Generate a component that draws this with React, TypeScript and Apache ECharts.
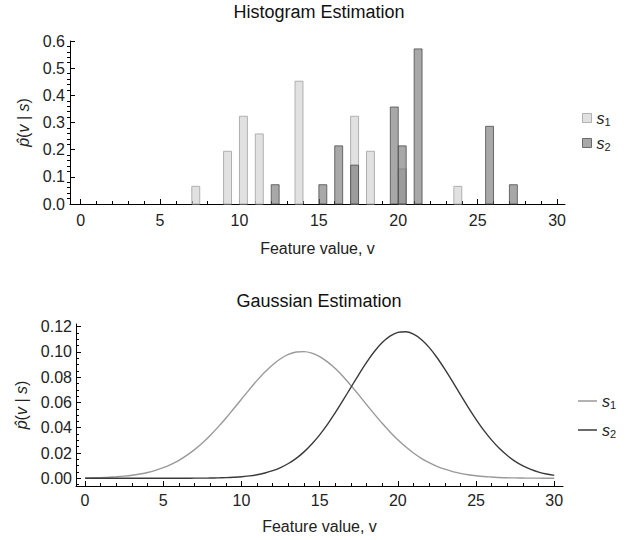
import React, { useEffect, useRef } from 'react';
import * as echarts from 'echarts';

// ---- Histogram data (bin width 0.5) ----
const binWidth = 0.5;
const s1BinStarts = [7, 9, 10, 11, 13.5, 17, 18, 20, 23.5];
const s1Heights = [0.065, 0.194, 0.323, 0.258, 0.452, 0.323, 0.194, 0.129, 0.065];
const s2BinStarts = [12, 15, 16, 17, 19.5, 20, 21, 25.5, 27];
const s2Heights = [0.071, 0.071, 0.214, 0.143, 0.357, 0.214, 0.571, 0.286, 0.071];

// ---- Gaussian estimate curves (read off every 0.5 in v) ----
const vValues = [0, 0.5, 1, 1.5, 2, 2.5, 3, 3.5, 4, 4.5, 5, 5.5, 6, 6.5, 7, 7.5, 8, 8.5, 9, 9.5, 10, 10.5, 11, 11.5, 12, 12.5, 13, 13.5, 14, 14.5, 15, 15.5, 16, 16.5, 17, 17.5, 18, 18.5, 19, 19.5, 20, 20.5, 21, 21.5, 22, 22.5, 23, 23.5, 24, 24.5, 25, 25.5, 26, 26.5, 27, 27.5, 28, 28.5, 29, 29.5, 30];
const s1Curve = [0.0002, 0.0004, 0.0005, 0.0008, 0.0012, 0.0017, 0.0024, 0.0034, 0.0046, 0.0063, 0.0084, 0.011, 0.0142, 0.0181, 0.0227, 0.0279, 0.0339, 0.0405, 0.0475, 0.055, 0.0626, 0.0702, 0.0775, 0.0841, 0.0899, 0.0946, 0.098, 0.0999, 0.1002, 0.099, 0.0963, 0.0921, 0.0868, 0.0805, 0.0734, 0.066, 0.0583, 0.0508, 0.0435, 0.0367, 0.0305, 0.0249, 0.02, 0.0158, 0.0123, 0.0095, 0.0072, 0.0053, 0.0039, 0.0028, 0.002, 0.0014, 0.001, 0.0006, 0.0004, 0.0003, 0.0002, 0.0001, 0.0001, 0.0, 0.0];
const s2Curve = [0, 0, 0, 0, 0, 0, 0, 0, 0, 0, 0, 0, 0, 0.0, 0.0001, 0.0001, 0.0002, 0.0003, 0.0005, 0.0008, 0.0012, 0.0019, 0.0028, 0.0042, 0.006, 0.0085, 0.0117, 0.0158, 0.0209, 0.0271, 0.0344, 0.0427, 0.0519, 0.0618, 0.072, 0.0821, 0.0917, 0.1003, 0.1074, 0.1125, 0.1155, 0.116, 0.1141, 0.1099, 0.1036, 0.0956, 0.0864, 0.0765, 0.0662, 0.0562, 0.0467, 0.0379, 0.0302, 0.0235, 0.018, 0.0134, 0.0098, 0.007, 0.0049, 0.0034, 0.0023];

// ---- Ticks ----
const xMajorTicks = [0, 5, 10, 15, 20, 25, 30];
const xMinorTicks = [1, 2, 3, 4, 6, 7, 8, 9, 11, 12, 13, 14, 16, 17, 18, 19, 21, 22, 23, 24, 26, 27, 28, 29];
const histYTicks = [0, 0.1, 0.2, 0.3, 0.4, 0.5, 0.6];
const gaussYTicks = [0, 0.02, 0.04, 0.06, 0.08, 0.1, 0.12];
const gaussYMinorTicks = [-0.005, 0.005, 0.01, 0.015, 0.025, 0.03, 0.035, 0.045, 0.05, 0.055, 0.065, 0.07, 0.075, 0.085, 0.09, 0.095, 0.105, 0.11, 0.115];

const FONT = 'Liberation Sans, Arial, Helvetica, sans-serif';
const TICK_FS = 16;
const nameRich = {
  i: { fontStyle: 'italic', fontSize: 16, fontFamily: FONT, color: '#222' },
  r: { fontSize: 16, fontFamily: FONT, color: '#222' },
};
const yName = '{i|p\u0302}{r|(}{i|v}{r| | }{i|s}{r|)}';

function majorX(grid: number, min: number, max: number, nameGap: number, labelMargin: number) {
  return {
    type: 'value', gridIndex: grid, min, max, position: 'bottom',
    name: 'Feature value, v', nameLocation: 'middle', nameGap,
    nameTextStyle: { fontFamily: FONT, fontSize: 16, color: '#222' },
    axisLine: { show: true, onZero: false, lineStyle: { color: '#000', width: 1 } },
    axisTick: { show: true, inside: true, length: 5, customValues: xMajorTicks, lineStyle: { color: '#000' } },
    axisLabel: { show: true, customValues: xMajorTicks, margin: labelMargin, fontFamily: FONT, fontSize: TICK_FS, color: '#222', formatter: (v: number) => String(v) },
    splitLine: { show: false },
  };
}
function minorX(grid: number, min: number, max: number) {
  return {
    type: 'value', gridIndex: grid, min, max, position: 'bottom',
    axisLine: { show: false, onZero: false },
    axisTick: { show: true, inside: true, length: 3, customValues: xMinorTicks, lineStyle: { color: '#000' } },
    axisLabel: { show: false },
    splitLine: { show: false },
  };
}

function histSeries(name: string, starts: number[], heights: number[], fill: string, stroke: string) {
  return {
    type: 'custom', name, xAxisIndex: 0, yAxisIndex: 0,
    itemStyle: { color: fill, borderColor: stroke, borderWidth: 1 },
    encode: { x: [0, 1], y: 2 },
    data: starts.map((s, i) => [s, s + binWidth, heights[i]]),
    renderItem: (params: any, api: any) => {
      const p0 = api.coord([api.value(0), api.value(2)]);
      const p1 = api.coord([api.value(1), 0]);
      return {
        type: 'rect',
        shape: { x: p0[0], y: p0[1], width: p1[0] - p0[0], height: p1[1] - p0[1] },
        style: { fill, stroke, lineWidth: 1 },
      };
    },
  };
}

const legendRich = {
  i: { fontStyle: 'italic', fontSize: 16, fontFamily: FONT, color: '#222', lineHeight: 18, verticalAlign: 'middle' },
  sub: { fontSize: 11, fontFamily: FONT, color: '#222', lineHeight: 11, verticalAlign: 'bottom' },
};
const legendFormatter = (n: string) => '{i|s}{sub|' + n.trim().slice(1) + '}';

const S1_FILL = 'rgba(200,200,200,0.55)';
const S2_FILL = 'rgba(110,110,110,0.6)';
const S1_LINE = '#999999';
const S2_LINE = '#3a3a3a';

const option: any = {
  animation: false,
  backgroundColor: '#fff',
  textStyle: { fontFamily: FONT },
  title: [
    { text: 'Histogram Estimation', left: 'center', top: 3, padding: 0, textStyle: { fontFamily: FONT, fontSize: 18, fontWeight: 'normal', color: '#111' } },
    { text: 'Gaussian Estimation', left: 'center', top: 292, padding: 0, textStyle: { fontFamily: FONT, fontSize: 18, fontWeight: 'normal', color: '#111' } },
  ],
  legend: [
    {
      data: [
        { name: 's1', icon: 'rect', itemStyle: { color: S1_FILL, borderColor: '#b0b0b0', borderWidth: 1 } },
        { name: 's2', icon: 'rect', itemStyle: { color: S2_FILL, borderColor: '#6a6a6a', borderWidth: 1 } },
      ],
      orient: 'vertical', left: 582, top: 110, padding: 0, itemWidth: 9, itemHeight: 9, itemGap: 8,
      formatter: legendFormatter, textStyle: { rich: legendRich }, selectedMode: false,
    },
    {
      data: [
        { name: 's1 ', icon: 'rect', itemStyle: { color: S1_LINE } },
        { name: 's2 ', icon: 'rect', itemStyle: { color: S2_LINE } },
      ],
      orient: 'vertical', left: 578, top: 393, padding: 0, itemWidth: 19, itemHeight: 1.5, itemGap: 12,
      formatter: legendFormatter, textStyle: { rich: legendRich }, selectedMode: false,
    },
  ],
  grid: [
    { left: 70, width: 495, top: 41, height: 163, containLabel: false },
    { left: 76, width: 487, top: 324, height: 162, containLabel: false },
  ],
  xAxis: [
    majorX(0, -0.67, 30.5, 36, 8),
    minorX(0, -0.67, 30.5),
    majorX(1, -0.58, 30.56, 32, 6),
    minorX(1, -0.58, 30.56),
  ],
  yAxis: [
    {
      type: 'value', gridIndex: 0, min: 0, max: 0.6, position: 'left',
      name: yName, nameLocation: 'middle', nameGap: 28, nameTextStyle: { rich: nameRich },
      axisLine: { show: true, onZero: false, lineStyle: { color: '#000' } },
      axisTick: { show: true, inside: true, length: 5, customValues: histYTicks, lineStyle: { color: '#000' } },
      axisLabel: { customValues: histYTicks, margin: 5, fontFamily: FONT, fontSize: TICK_FS, color: '#222', formatter: (v: number) => v.toFixed(1) },
      splitLine: { show: false },
    },
    {
      type: 'value', gridIndex: 0, min: 0, max: 0.6, interval: 0.1, position: 'left',
      axisLine: { show: false, onZero: false },
      axisTick: { show: false },
      axisLabel: { show: false },
      minorTick: { show: true, splitNumber: 5, length: 3, lineStyle: { color: '#000' } },
      splitLine: { show: false },
    },
    {
      type: 'value', gridIndex: 1, min: -0.0061, max: 0.1221, position: 'left',
      name: yName, nameLocation: 'middle', nameGap: 37, nameTextStyle: { rich: nameRich },
      axisLine: { show: true, onZero: false, lineStyle: { color: '#000' } },
      axisTick: { show: true, inside: true, length: 5, customValues: gaussYTicks, lineStyle: { color: '#000' } },
      axisLabel: { customValues: gaussYTicks, margin: 4, fontFamily: FONT, fontSize: TICK_FS, color: '#222', formatter: (v: number) => v.toFixed(2) },
      splitLine: { show: false },
    },
    {
      type: 'value', gridIndex: 1, min: -0.0061, max: 0.1221, position: 'left',
      axisLine: { show: false, onZero: false },
      axisTick: { show: true, inside: true, length: 3, customValues: gaussYMinorTicks, lineStyle: { color: '#000' } },
      axisLabel: { show: false },
      splitLine: { show: false },
    },
  ],
  series: [
    histSeries('s1', s1BinStarts, s1Heights, S1_FILL, '#b0b0b0'),
    histSeries('s2', s2BinStarts, s2Heights, S2_FILL, 'rgba(70,70,70,0.75)'),
    {
      type: 'line', name: 's1 ', xAxisIndex: 2, yAxisIndex: 2, smooth: 0.3, symbol: 'none',
      lineStyle: { color: S1_LINE, width: 1.4 }, itemStyle: { color: S1_LINE },
      data: vValues.map((v, i) => [v, s1Curve[i]]),
    },
    {
      type: 'line', name: 's2 ', xAxisIndex: 2, yAxisIndex: 2, smooth: 0.3, symbol: 'none',
      lineStyle: { color: S2_LINE, width: 1.4 }, itemStyle: { color: S2_LINE },
      data: vValues.map((v, i) => [v, s2Curve[i]]),
    },
  ],
};

export default function App() {
  const ref = useRef<HTMLDivElement>(null);
  useEffect(() => {
    const chart = echarts.init(ref.current!, null, { renderer: 'svg' });
    chart.setOption(option);
    return () => chart.dispose();
  }, []);
  return <div ref={ref} style={{ position: 'absolute', left: 0, top: 0, width: 638, height: 540 }} />;
}
